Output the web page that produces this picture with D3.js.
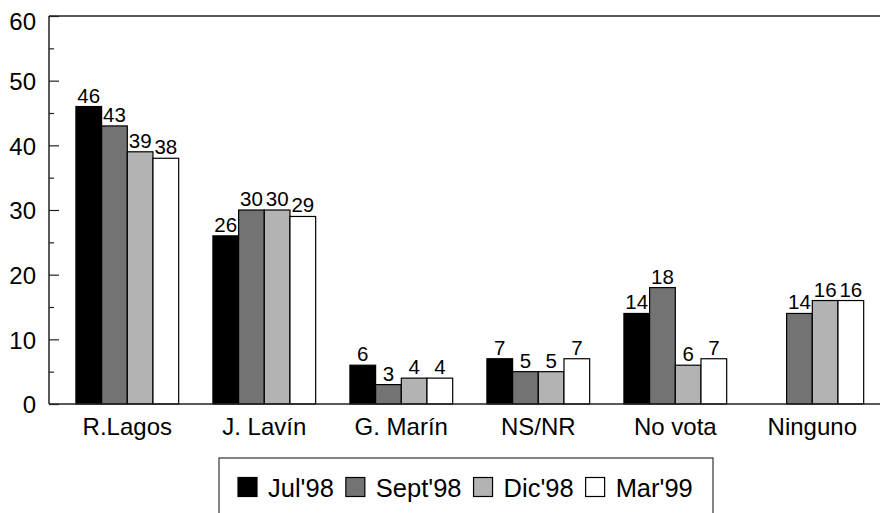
<!DOCTYPE html>
<html>
<head>
<meta charset="utf-8">
<script src="https://cdn.jsdelivr.net/npm/d3@7"></script>
<style>
  html, body { margin: 0; padding: 0; background: #fff; }
  svg { display: block; font-family: "Liberation Sans", Arial, sans-serif; }
</style>
</head>
<body>
<svg id="chart" width="880" height="513"></svg>
<script>
const categories = ["R.Lagos", "J. Lavín", "G. Marín", "NS/NR", "No vota", "Ninguno"];
const seriesNames = ["Jul'98", "Sept'98", "Dic'98", "Mar'99"];
const seriesColors = ["#000000", "#737373", "#b3b3b3", "#ffffff"];
const jul98 = [46, 26, 6, 7, 14, null];
const sept98 = [43, 30, 3, 5, 18, 14];
const dic98 = [39, 30, 4, 5, 6, 16];
const mar99 = [38, 29, 4, 7, 7, 16];
const yTicks = [0, 10, 20, 30, 40, 50, 60];
const yMinorTicks = [5, 15, 25, 35, 45, 55];

const seriesValues = [jul98, sept98, dic98, mar99];

(function () {
const svg = d3.select("#chart");
const pLeft = 49, pRight = 880, pTop = 16, pBottom = 404;

const y = d3.scaleLinear().domain([0, 60]).range([pBottom, pTop]);
const x = d3.scaleBand().domain(categories).range([58.8, 880.8]).paddingInner(0.25).paddingOuter(0.125);
const xs = d3.scaleBand().domain(seriesNames).range([0, x.bandwidth()]).padding(0);

// top frame line
svg.append("line").attr("x1", pLeft).attr("x2", pRight).attr("y1", pTop).attr("y2", pTop)
  .attr("stroke", "#222").attr("stroke-width", 1.5);

// y axis with inward ticks
const yAxis = d3.axisRight(y).tickValues(yTicks).tickSize(10).tickFormat("");
const gy = svg.append("g").attr("transform", `translate(${pLeft},0)`).call(yAxis);
gy.select(".domain").remove();
gy.selectAll(".tick line").attr("stroke", "#222").attr("stroke-width", 1.2);
const yMinor = d3.axisRight(y).tickValues(yMinorTicks).tickSize(5).tickFormat("");
const gym = svg.append("g").attr("transform", `translate(${pLeft},0)`).call(yMinor);
gym.select(".domain").remove();
gym.selectAll(".tick line").attr("stroke", "#222").attr("stroke-width", 1.2);

// tick labels (top one kept inside the frame)
svg.append("g").selectAll("text").data(yTicks).join("text")
  .attr("x", 36).attr("y", d => Math.max(y(d) + 0.7, pTop + 5)).attr("dy", "0.36em")
  .attr("text-anchor", "end").attr("font-size", 24).attr("fill", "#000")
  .text(d => d);

// bars
const groups = svg.append("g").selectAll("g").data(categories).join("g")
  .attr("transform", d => `translate(${x(d)},0)`);

groups.each(function(cat, ci) {
  const g = d3.select(this);
  const data = seriesNames.map((s, si) => ({ s, si, v: seriesValues[si][ci] })).filter(d => d.v != null);
  g.selectAll("rect").data(data).join("rect")
    .attr("x", d => xs(d.s)).attr("width", xs.bandwidth())
    .attr("y", d => y(d.v)).attr("height", d => y(0) - y(d.v))
    .attr("fill", d => seriesColors[d.si])
    .attr("stroke", "#000").attr("stroke-width", 1.2);
  g.selectAll("text.val").data(data).join("text").attr("class", "val")
    .attr("x", d => xs(d.s) + xs.bandwidth() / 2)
    .attr("y", d => y(d.v) - 4)
    .attr("text-anchor", "middle").attr("font-size", 20.5).attr("fill", "#000")
    .text(d => d.v);
});

// axis lines on top
svg.append("line").attr("x1", pLeft).attr("x2", pLeft).attr("y1", pTop).attr("y2", pBottom)
  .attr("stroke", "#222").attr("stroke-width", 1.5);
svg.append("line").attr("x1", pLeft).attr("x2", pRight).attr("y1", pBottom).attr("y2", pBottom)
  .attr("stroke", "#222").attr("stroke-width", 1.5);

// category labels
svg.append("g").selectAll("text").data(categories).join("text")
  .attr("x", d => x(d) + x.bandwidth() / 2).attr("y", 435)
  .attr("text-anchor", "middle").attr("font-size", 24).attr("fill", "#000")
  .text(d => d);

// legend
svg.append("rect").attr("x", 219).attr("y", 458).attr("width", 494).attr("height", 80)
  .attr("fill", "#fff").attr("stroke", "#333").attr("stroke-width", 1.2);
const lg = svg.append("g");
let lx = 238;
seriesNames.forEach((s, i) => {
  lg.append("rect").attr("x", lx).attr("y", 477.5).attr("width", 19).attr("height", 19)
    .attr("fill", seriesColors[i]).attr("stroke", "#000").attr("stroke-width", 1.2);
  const t = lg.append("text").attr("x", lx + 30).attr("y", 497)
    .attr("font-size", 25.5).attr("fill", "#000").text(s);
  const w = t.node().getComputedTextLength();
  lx = lx + 30 + w + 12;
});
})();
</script>
</body>
</html>
